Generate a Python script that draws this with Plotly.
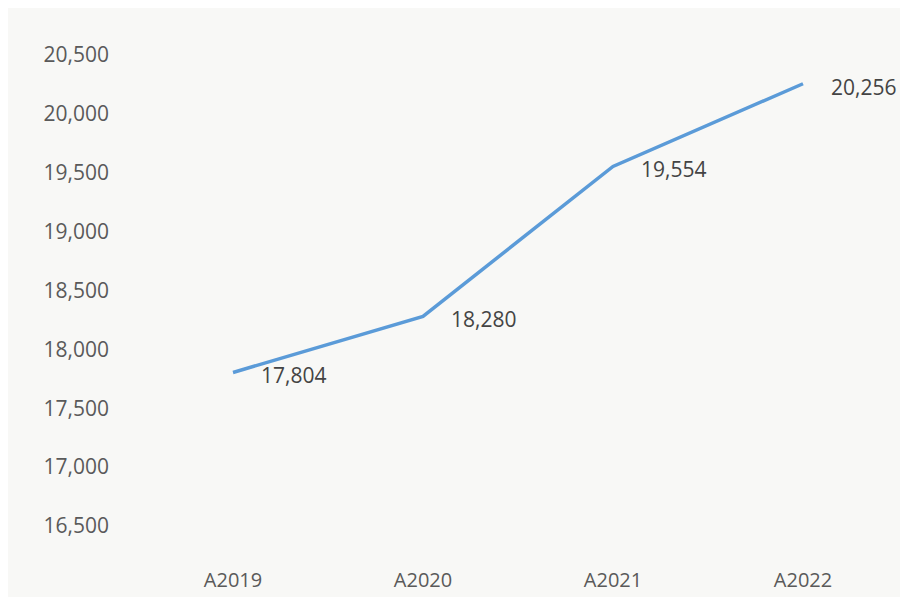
import plotly.graph_objects as go

categories = ["A2019", "A2020", "A2021", "A2022"]
values = [17804, 18280, 19554, 20256]
labels = ["17,804", "18,280", "19,554", "20,256"]
y_ticks = [16500, 17000, 17500, 18000, 18500, 19000, 19500, 20000, 20500]

font_color = "#5a5a5a"
bg = "#f8f8f6"

fig = go.Figure()
fig.add_trace(go.Scatter(
    x=categories, y=values, mode="lines",
    line=dict(color="#5b9bd8", width=3.5),
    hoverinfo="skip", showlegend=False,
))
for c, v, t in zip(categories, values, labels):
    fig.add_annotation(x=c, y=v, text=t, showarrow=False,
                       xanchor="left", yanchor="middle", xshift=26, yshift=-3,
                       font=dict(size=21, color="#444444", family="Open Sans"))

fig.update_layout(
    width=908, height=597,
    margin=dict(l=130, r=18, t=47, b=75),
    paper_bgcolor=bg, plot_bgcolor=bg,
    font=dict(family="Open Sans", size=21, color=font_color),
    xaxis=dict(type="category", range=[-0.5, 3.5],
               showgrid=False, zeroline=False, showline=False, ticks="",
               ticklabelstandoff=40, tickfont=dict(size=20)),
    yaxis=dict(range=[16500, 20500], tickvals=y_ticks, tickformat=",d",
               showgrid=False, zeroline=False, showline=False, ticks="",
               ticklabelstandoff=28),
)
fig.write_html("out.html")
